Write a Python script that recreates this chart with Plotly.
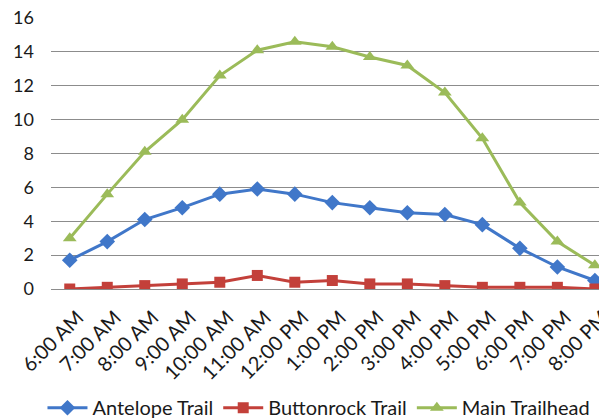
import plotly.graph_objects as go

times = ["6:00 AM", "7:00 AM", "8:00 AM", "9:00 AM", "10:00 AM", "11:00 AM",
         "12:00 PM", "1:00 PM", "2:00 PM", "3:00 PM", "4:00 PM", "5:00 PM",
         "6:00 PM", "7:00 PM", "8:00 PM"]
antelope = [1.7, 2.8, 4.1, 4.8, 5.6, 5.9, 5.6, 5.1, 4.8, 4.5, 4.4, 3.8, 2.4, 1.3, 0.5]
buttonrock = [0.0, 0.1, 0.2, 0.3, 0.4, 0.8, 0.4, 0.5, 0.3, 0.3, 0.2, 0.1, 0.1, 0.1, 0.0]
main_trailhead = [3.0, 5.6, 8.1, 10.0, 12.6, 14.1, 14.6, 14.3, 13.7, 13.2, 11.6, 8.9, 5.1, 2.8, 1.4]
y_ticks = [0, 2, 4, 6, 8, 10, 12, 14, 16]

FONT = "Lato, 'Open Sans', sans-serif"

fig = go.Figure()
fig.add_trace(go.Scatter(x=times, y=antelope, name="Antelope Trail", mode="lines+markers",
                         line=dict(color="#4077C9", width=3),
                         marker=dict(symbol="diamond", size=12, color="#4077C9")))
fig.add_trace(go.Scatter(x=times, y=buttonrock, name="Buttonrock Trail", mode="lines+markers",
                         line=dict(color="#C3403A", width=3),
                         marker=dict(symbol="square", size=11, color="#C3403A")))
fig.add_trace(go.Scatter(x=times, y=main_trailhead, name="Main Trailhead", mode="lines+markers",
                         line=dict(color="#9BBB59", width=3),
                         marker=dict(symbol="triangle-up", size=12, color="#9BBB59")))

fig.update_layout(
    width=599, height=419,
    margin=dict(l=51, r=0, t=18, b=130, autoexpand=False),
    paper_bgcolor="white", plot_bgcolor="white",
    font=dict(family=FONT, size=18, color="#1a1a1a"),
    showlegend=True,
    legend=dict(orientation="h", x=0.489, xanchor="center", y=-0.366, yanchor="top",
                font=dict(size=20), itemwidth=40, tracegroupgap=0),
    xaxis=dict(type="category", range=[-0.5, 14.11], tickangle=-45, automargin=False,
               showgrid=False, showline=False, ticks="", tickfont=dict(size=20),
               ticklabelstandoff=12, ticklabelshift=8),
    yaxis=dict(range=[0, 16], tickvals=y_ticks, showgrid=True, gridcolor="#8C8C8C",
               gridwidth=1, zeroline=True, zerolinecolor="#8C8C8C", zerolinewidth=1,
               automargin=False, ticks="", tickfont=dict(size=18), ticklabelstandoff=16),
)

fig.write_html("out.html", config={"displayModeBar": False},
               post_script="document.body.style.margin='0px';document.body.style.overflow='hidden';")
